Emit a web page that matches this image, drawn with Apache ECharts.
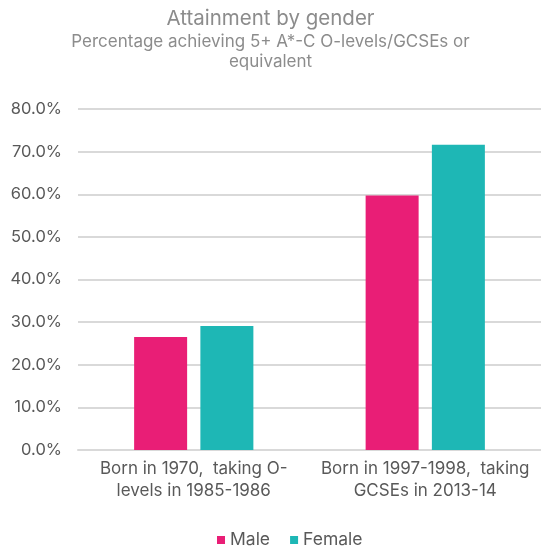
<!DOCTYPE html>
<html>
<head>
<meta charset="utf-8">
<script src="https://cdn.jsdelivr.net/npm/echarts@6/dist/echarts.min.js"></script>
<style>
  html, body { margin: 0; padding: 0; background: #fff; }
  #chart { width: 541px; height: 549px; }
</style>
</head>
<body>
<div id="chart"></div>
<script>
var categories = ['Born in 1970,  taking O-\nlevels in 1985-1986', 'Born in 1997-1998,  taking\nGCSEs in 2013-14']
var maleValues = [26.5, 59.7]
var femaleValues = [29.1, 71.6]
var yTicks = [0, 10, 20, 30, 40, 50, 60, 70, 80]

var font = 'Inter'
var chart = echarts.init(document.getElementById('chart'))
var option = {
  backgroundColor: '#fff',
  textStyle: { fontFamily: font },
  title: {
    text: 'Attainment by gender',
    subtext: 'Percentage achieving 5+ A*-C O-levels/GCSEs or\nequivalent',
    left: 'center',
    top: 3,
    itemGap: 3,
    textStyle: { fontFamily: font, fontSize: 20.5, fontWeight: 'normal', color: '#8c8c8c' },
    subtextStyle: { fontFamily: font, fontSize: 17, color: '#8c8c8c', lineHeight: 20, align: 'center' }
  },
  legend: {
    bottom: -5,
    left: 212,
    itemWidth: 8,
    itemHeight: 8,
    itemGap: 20,
    icon: 'rect',
    textStyle: { fontFamily: font, fontSize: 17.5, color: '#595959' },
    data: ['Male', 'Female']
  },
  grid: { left: 78, width: 467, top: 109, bottom: 99, containLabel: false },
  xAxis: {
    type: 'category',
    data: categories,
    axisLine: { show: true, lineStyle: { color: '#d9d9d9', width: 2 } },
    axisTick: { show: false },
    axisLabel: { fontFamily: font, fontSize: 17, color: '#595959', lineHeight: 22, margin: 8, interval: 0 }
  },
  yAxis: {
    type: 'value',
    min: yTicks[0],
    max: yTicks[yTicks.length - 1],
    interval: 10,
    axisLine: { show: false },
    axisTick: { show: false },
    splitLine: { lineStyle: { color: '#d9d9d9', width: 2 } },
    axisLabel: {
      fontFamily: font, fontSize: 16.5, color: '#595959', margin: 16,
      formatter: function (v) { return v.toFixed(1) + '%' }
    }
  },
  series: [{
    name: 'Male',
    type: 'bar',
    data: maleValues,
    barWidth: 53,
    barGap: '25%',
    itemStyle: { color: '#e91e76' }
  }, {
    name: 'Female',
    type: 'bar',
    data: femaleValues,
    barWidth: 53,
    barGap: '25%',
    itemStyle: { color: '#1eb7b5' }
  }]
}
chart.setOption(option)
</script>
</body>
</html>
